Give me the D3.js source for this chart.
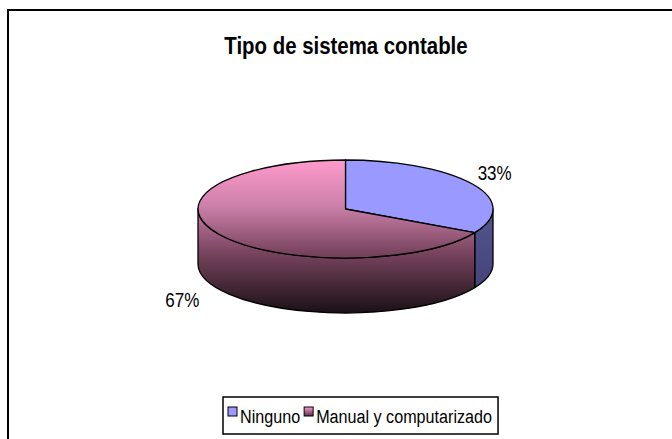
<!DOCTYPE html>
<html><head><meta charset="utf-8">
<script src="https://cdn.jsdelivr.net/npm/d3@7"></script>
<style>body{margin:0;background:#fff}svg{display:block}text{font-family:"Liberation Sans",Arial,sans-serif}</style>
</head><body>
<svg id="c" width="672" height="439"></svg>
<script>
const title = "Tipo de sistema contable";
const categories = ["Ninguno", "Manual y computarizado"];
const values = [33, 67];
const labels = ["33%", "67%"];

const svg = d3.select("#c");
const W = 672, H = 439;
const cx = 345.5, cy = 209, rx = 147.5, ry = 49, depth = 55;
const SX = 0.85; // condensed text look

const defs = svg.append("defs");
const gPink = defs.append("linearGradient").attr("id","gPink").attr("gradientUnits","userSpaceOnUse")
  .attr("x1",0).attr("x2",0).attr("y1",cy-ry).attr("y2",cy+ry+depth);
[[0,"#ff9acd"],[0.3,"#cc80aa"],[0.6,"#7a4560"],[1,"#1a1015"]].forEach(s=>gPink.append("stop").attr("offset",s[0]).attr("stop-color",s[1]));
const gBlueSide = defs.append("linearGradient").attr("id","gBlueSide").attr("x1",0).attr("x2",0).attr("y1",0).attr("y2",1);
[[0,"#55558f"],[1,"#44447a"]].forEach(s=>gBlueSide.append("stop").attr("offset",s[0]).attr("stop-color",s[1]));
const gLeg = defs.append("linearGradient").attr("id","gLeg").attr("x1",0).attr("x2",0).attr("y1",0).attr("y2",1);
[[0,"#ff9acd"],[1,"#5a3048"]].forEach(s=>gLeg.append("stop").attr("offset",s[0]).attr("stop-color",s[1]));

const topFill = ["#9999ff","url(#gPink)"];
const sideFill = ["url(#gBlueSide)","url(#gPink)"];
const legFill = ["#9999ff","url(#gLeg)"];

function ctext(sel, x, y, str, size, anchor, weight){
  return sel.append("text").attr("transform",`translate(${x},${y}) scale(${SX},1)`)
    .attr("text-anchor",anchor||"start").attr("font-size",size)
    .attr("font-weight",weight||"normal").text(str);
}

svg.append("rect").attr("x",8).attr("y",10).attr("width",W+20).attr("height",H+20)
  .attr("fill","#fff").attr("stroke","#000").attr("stroke-width",2);

ctext(svg, 346, 54, title, 24, "middle", "bold");

const pie = d3.pie().sort(null).startAngle(0).endAngle(2*Math.PI);
const arcs = pie(values);
const P = (a, dy=0) => [cx + rx*Math.sin(a), cy - ry*Math.cos(a) + dy];

const g = svg.append("g");
arcs.forEach((d,i)=>{
  const s = Math.max(d.startAngle, Math.PI/2), e = Math.min(d.endAngle, 3*Math.PI/2);
  if (e <= s) return;
  const p0=P(s), p1=P(e), q1=P(e,depth), q0=P(s,depth);
  const large = (e-s) > Math.PI ? 1 : 0;
  const path = `M${p0}A${rx},${ry} 0 ${large} 1 ${p1}L${q1}A${rx},${ry} 0 ${large} 0 ${q0}Z`;
  g.append("path").attr("d",path).attr("fill",sideFill[i]).attr("stroke","#000").attr("stroke-width",1.3).attr("stroke-linejoin","round");
});
arcs.forEach((d,i)=>{
  const p0=P(d.startAngle), p1=P(d.endAngle);
  const large = (d.endAngle-d.startAngle) > Math.PI ? 1 : 0;
  const path = `M${cx},${cy}L${p0}A${rx},${ry} 0 ${large} 1 ${p1}Z`;
  g.append("path").attr("d",path).attr("fill",topFill[i]).attr("stroke","#000").attr("stroke-width",1.3).attr("stroke-linejoin","round");
});
arcs.forEach((d,i)=>{
  const m = (d.startAngle+d.endAngle)/2;
  const lx = cx - 7 + rx*1.23*Math.sin(m);
  const ly = cy - ry*1.45*Math.cos(m) + (Math.cos(m)<0 ? depth : 0) + 7;
  ctext(svg, lx, ly, labels[i], 20, "middle");
});

const lg = svg.append("g");
const box = lg.append("rect").attr("fill","#fff").attr("stroke","#000").attr("stroke-width",1.5);
let x = 228; const ty = 423;
categories.forEach((c,i)=>{
  lg.append("rect").attr("x",x).attr("y",407).attr("width",9).attr("height",9)
    .attr("fill",legFill[i]).attr("stroke","#000").attr("stroke-width",1);
  x += 12;
  const t = ctext(lg, x, ty, c, 19, "start");
  x += t.node().getComputedTextLength()*SX + 4;
});
box.attr("x",223).attr("y",397).attr("width",x-223+2).attr("height",37);
</script>
</body></html>
